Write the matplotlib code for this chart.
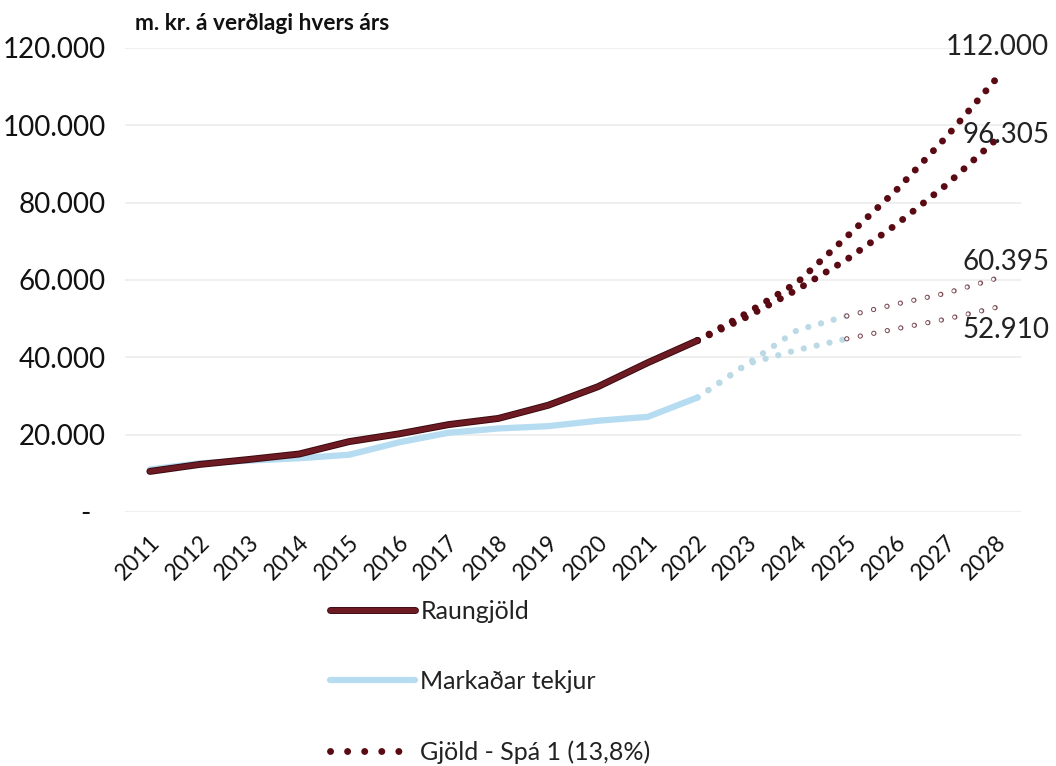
import matplotlib
matplotlib.use("Agg")
import matplotlib.pyplot as plt
import matplotlib.transforms as mtransforms
import matplotlib.patheffects as pe
from matplotlib.lines import Line2D
from matplotlib.ticker import FuncFormatter, MultipleLocator

plt.rcParams['font.family'] = ['Lato', 'DejaVu Sans']

# ---- data ----
years_actual = [2011, 2012, 2013, 2014, 2015, 2016, 2017, 2018, 2019, 2020, 2021, 2022]
raungjold = [10500, 12300, 13600, 15000, 18200, 20200, 22600, 24200, 27600, 32400, 38600, 44340]
markadar = [11000, 12600, 13300, 13900, 14800, 18000, 20500, 21600, 22200, 23600, 24600, 29600]

years_fc = [2022, 2023, 2024, 2025, 2026, 2027, 2028]
gjold_spa1 = [44340, 50500, 57500, 65300, 74400, 84600, 96305]
gjold_spa2 = [44340, 51500, 59300, 71200, 83300, 97000, 112000]
tekjur_spa_a = [29600, 38300, 47000, 50700, 53800, 56600, 60395]
tekjur_spa_b = [29600, 38300, 41900, 44800, 47400, 49900, 52910]

end_labels = ["112.000", "96.305", "60.395", "52.910"]
end_values = [112000, 96305, 60395, 52910]
end_offsets_px = [32, 5, 16, -23]

all_years = list(range(2011, 2029))

MAROON = '#6e1a23'
MAROON_DARK = '#3a0a10'
DOT_MAROON = '#5a0a12'
LIGHTBLUE = '#b5dcf1'
DOTBLUE = '#bcd9e6'

fig = plt.figure(figsize=(10.56, 7.66), dpi=100)
ax = fig.add_axes([125/1056, 1-512/766, 896/1056, (512-48)/766])

ax.set_xlim(2010.5, 2028.5)
ax.set_ylim(0, 120000)
for s in ax.spines.values():
    s.set_visible(False)
ax.yaxis.set_major_locator(MultipleLocator(20000))
ax.grid(axis='y', color='#ececec', lw=1.2)
ax.set_axisbelow(True)

def fmt(v, pos):
    if abs(v) < 1:
        return '-  '
    return f"{int(round(v)):,}".replace(',', '.')
ax.yaxis.set_major_formatter(FuncFormatter(fmt))
ax.tick_params(axis='y', length=0, pad=14, labelsize=20, labelcolor='#111111')
ax.set_xticks(all_years)
ax.set_xticklabels([str(y) for y in all_years])
ax.tick_params(axis='x', length=0, pad=14, labelsize=16.5, labelcolor='#111111')
offset = mtransforms.ScaledTranslation(0.14, 0, fig.dpi_scale_trans)
for lab in ax.get_xticklabels():
    lab.set_rotation(45)
    lab.set_ha('right')
    lab.set_va('top')
    lab.set_transform(lab.get_transform() + offset)

# tekjur forecasts: blue dots first part, hollow circles later
for series in (tekjur_spa_a, tekjur_spa_b):
    ax.plot(years_fc[:4], series[:4], color=DOTBLUE, lw=4.5,
            linestyle=(0, (0.01, 2.1)), dash_capstyle='round', zorder=2)
    ax.plot(years_fc[3:], series[3:], color='#7a4a52', lw=3.8,
            linestyle=(0, (0.01, 2.6)), dash_capstyle='round', zorder=2)
    ax.plot(years_fc[3:], series[3:], color='white', lw=2.3,
            linestyle=(0, (0.01, 4.29)), dash_capstyle='round', zorder=2)

# gjold forecasts
ax.plot(years_fc, gjold_spa2, color=DOT_MAROON, lw=5,
        linestyle=(0, (0.01, 1.9)), dash_capstyle='round', zorder=3)
ax.plot(years_fc, gjold_spa1, color=DOT_MAROON, lw=5,
        linestyle=(0, (0.01, 1.9)), dash_capstyle='round', zorder=3)

# actual lines
ax.plot(years_actual, markadar, color=LIGHTBLUE, lw=4.5,
        solid_capstyle='round', zorder=4)
ax.plot(years_actual, raungjold, color=MAROON, lw=3.6, solid_capstyle='round', zorder=5,
        path_effects=[pe.Stroke(linewidth=5, foreground=MAROON_DARK), pe.Normal()])

for lab, val, dy in zip(end_labels, end_values, end_offsets_px):
    ax.annotate(lab, xy=(2028, val), xytext=(53, dy), textcoords='offset pixels',
                ha='right', va='center', fontsize=20, color='#222222',
                annotation_clip=False)

fig.text(135/1056, 1-24/766, 'm. kr. á verðlagi hvers árs', fontsize=16.3,
         fontweight='bold', color='#111111', ha='left', va='center')

handles = [
    Line2D([], [], color=MAROON, lw=3.6, solid_capstyle='round',
           path_effects=[pe.Stroke(linewidth=5, foreground=MAROON_DARK), pe.Normal()]),
    Line2D([], [], color=LIGHTBLUE, lw=4.5, solid_capstyle='round'),
    Line2D([], [], color=DOT_MAROON, lw=5, linestyle=(0, (0.01, 2.45)), dash_capstyle='round'),
]
labels = ['Raungjöld', 'Markaðar tekjur', 'Gjöld - Spá 1 (13,8%)']
fig.legend(handles, labels, loc='upper left', bbox_to_anchor=(330/1056, 1-600/766),
           frameon=False, fontsize=18, handlelength=3.4, handletextpad=0.22,
           labelspacing=1.88, borderpad=0, borderaxespad=0, labelcolor='#222222')

fig.savefig('out.png', dpi=100)
